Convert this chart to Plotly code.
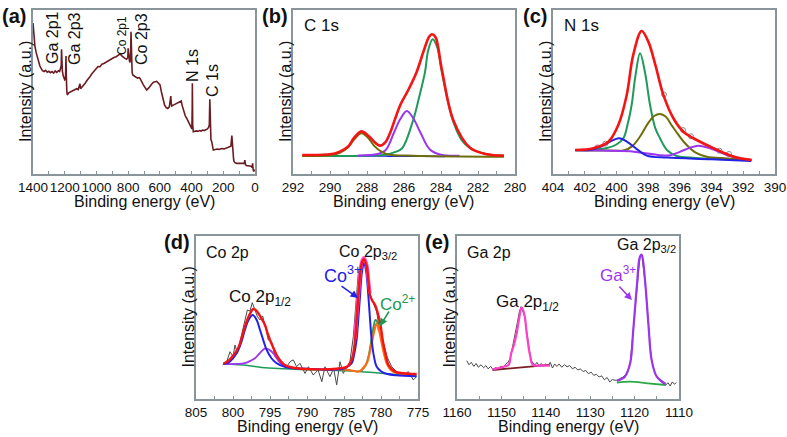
import plotly.graph_objects as go

W, H = 787, 437

# ---------------- (a) survey ----------------
survey_be = [1400, 1398, 1393, 1388, 1380, 1372, 1365, 1357, 1350, 1340, 1330, 1320, 1310, 1300, 1290, 1280,
             1270, 1260, 1250, 1240, 1232, 1226, 1222, 1220, 1218, 1215, 1210, 1206, 1200, 1195, 1192, 1190,
             1187, 1184, 1175, 1165, 1155, 1145, 1135, 1125, 1115, 1108, 1104, 1100, 1090, 1080, 1070, 1060,
             1050, 1040, 1030, 1020, 1010, 1000, 990, 977, 965, 950, 935, 920, 905, 890, 875, 860, 850, 840,
             830, 820, 810, 802, 800, 797, 792, 788, 784, 782, 779, 775, 771, 760, 750, 740, 730, 725, 715,
             705, 695, 683, 670, 660, 650, 640, 631, 620, 610, 599, 590, 580, 570, 560, 550, 540, 535, 531,
             528, 525, 515, 505, 495, 485, 475, 465, 460, 450, 440, 431, 420, 410, 402, 398, 396, 395, 393,
             389, 380, 370, 360, 350, 340, 330, 320, 310, 300, 292, 288, 285, 282, 278, 273, 268, 263, 250,
             240, 225, 210, 195, 180, 170, 160, 152, 146, 143, 140, 135, 132, 125, 115, 105, 95, 85, 75, 68,
             64, 61, 55, 45, 35, 25, 18, 15, 12, 8, 4, 0]
survey_int = [92, 89, 84, 78, 74, 71, 68, 66, 64.5, 63, 62.5, 63.2, 62, 62.6, 61.8, 62.5,
              61.5, 62.8, 62, 63, 62.5, 64, 66, 76, 66, 63, 60, 58.5, 57.5, 58, 72, 60,
              51, 48.2, 49.5, 50, 50.5, 51, 51.5, 52, 51.5, 53.5, 55, 52, 53, 54, 55.5, 57,
              58, 59.5, 61, 62, 63.5, 64, 65.5, 65.4, 67, 67.5, 68.5, 69.5, 70, 71, 71.5, 72.8, 73.2, 72,
              71, 70.5, 70, 71, 76.6, 70, 69, 68, 74, 86.8, 66, 62, 60.4, 59.5, 59, 58.5, 58.8, 58.3, 56,
              54.5, 53, 51.2, 52.5, 54, 55, 56, 56.3, 56.5, 55.5, 54.3, 50, 45, 42, 40.5, 40, 41, 44, 47.5,
              43, 41.5, 42, 42.5, 43, 43.5, 44, 44.5, 42, 38, 35.5, 34, 32, 30, 28, 27.5, 40, 55.3, 30,
              25.8, 26, 26.3, 26, 26.5, 26.2, 26.8, 26.5, 27, 27.5, 28.5, 30, 45.5, 24, 21, 19.7, 17, 14.6, 15,
              15.2, 15, 15.5, 15.3, 15.8, 16, 16.5, 17, 23.5, 17, 14, 9, 7.5, 6.8, 6.5, 6.5, 6.3, 6.5, 6.2, 6.5,
              8.5, 6, 5.2, 5, 5, 4.8, 4, 6.5, 3, 1.5, 2.5, 2]

# ---------------- (b) C 1s ----------------
c1s_env_be = [291.5, 290.0, 289.5, 289.0, 288.7, 288.3, 287.9, 287.5, 287.3, 287.0, 286.76, 286.5, 286.2,
              285.77, 285.31, 284.95, 284.65, 284.5, 284.3, 283.96, 283.34, 282.43, 281.5, 280.6]
c1s_env_int = [11.6, 12, 13.5, 17, 22, 26, 23, 18.5, 17.3, 19.5, 24.8, 33, 42.1,
               51.2, 62.4, 74.6, 83.5, 85.2, 83.5, 64, 33, 16, 12, 11.2]
c1s_cc_be = [291.5, 288.0, 287.0, 286.5, 286.1, 285.53, 285.2, 284.86, 284.7, 284.45, 284.2, 283.96, 283.6,
             283.34, 282.9, 282.43, 281.5, 280.6]
c1s_cc_int = [11.0, 11.2, 11.8, 13.3, 15.7, 31.9, 46, 62.4, 75, 82.1, 77, 62.4, 43, 31.9, 21, 15.7, 12, 11]
c1s_co_be = [288.5, 287.5, 287.0, 286.55, 286.2, 285.85, 285.5, 285.1, 284.6, 284.0, 283.0]
c1s_co_int = [11.3, 12, 14.5, 25, 33.5, 38.4, 34, 25, 15, 11.8, 11.2]
c1s_oco_be = [291.5, 290.0, 289.5, 289.0, 288.7, 288.3, 287.9, 287.6, 287.2, 286.8, 285.5, 280.6]
c1s_oco_int = [11.0, 11.5, 12.8, 16.5, 21, 24.8, 21.5, 17, 13.5, 11.8, 11.2, 10.5]
c1s_bg_be = [289.5, 287.0, 285.0, 283.8]
c1s_bg_int = [11.0, 10.9, 10.8, 10.7]

# ---------------- (c) N 1s ----------------
n1s_env_be = [402.6, 401.46, 400.51, 399.88, 399.35, 398.94, 398.41, 397.99, 397.57, 397.04, 396.41, 395.78,
              395.15, 394.31, 393.26, 392.42, 391.47]
n1s_env_int = [14.6, 15.7, 19.7, 29.9, 48.2, 72.6, 87.2, 80.7, 67.5, 48.2, 34, 25.8, 21.8, 17.7, 13, 10, 8.5]
n1s_a_be = [402.6, 401.5, 400.6, 400.0, 399.56, 399.3, 399.04, 398.8, 398.51, 398.2, 397.88, 397.55, 397.25,
            396.8, 396.2, 395.0, 391.5]
n1s_a_int = [14.6, 14.8, 15.8, 18, 21.8, 30, 42.1, 60, 73.6, 62, 42.1, 28, 21.8, 14.5, 11, 9.8, 8.5]
n1s_b_be = [402.6, 400.5, 399.5, 399.0, 398.5, 398.0, 397.6, 397.25, 396.9, 396.5, 396.1, 395.6, 395.0,
            394.3, 393.0, 391.5]
n1s_b_int = [14.5, 14.3, 14.5, 17, 23, 31, 35.5, 36.6, 35, 29.5, 24, 18, 13, 10.5, 9.5, 8.6]
n1s_c_be = [402.6, 401.5, 400.8, 400.4, 399.82, 399.3, 398.72, 398.09, 396.8, 394.0, 391.5]
n1s_c_int = [14.5, 15, 17.5, 19.7, 21.8, 19.5, 15.2, 11.2, 10, 9, 7.9]
n1s_d_be = [402.6, 400.5, 398.9, 397.25, 396.6, 396.0, 395.36, 394.84, 394.1, 393.5, 393.05, 392.3, 391.5]
n1s_d_int = [14.6, 14.2, 13.6, 11.5, 11.5, 13.5, 16, 17.3, 15.7, 13.5, 11.6, 9.8, 8.5]
n1s_raw_be = [401.2, 400.7, 397.0, 395.8, 395.3, 393.5, 392.9]
n1s_raw_int = [16.2, 18.5, 48.5, 26.8, 23, 14.2, 12.2]

# ---------------- (d) Co 2p ----------------
co_raw_be = [801.4, 800.85, 800.4, 800.0, 799.73, 799.4, 799.05, 798.6, 798.06, 797.7, 797.39, 797.03, 796.7,
             796.35, 795.99, 795.68, 795.23, 794.77, 794.32, 793.65, 792.74, 792.3, 791.85, 791.4, 790.95,
             790.27, 789.8, 789.15, 788.5, 788.0, 787.57, 786.9, 786.4, 785.99, 785.54, 785.1, 784.64, 784.2,
             783.74, 783.38, 783.07, 782.6, 782.3, 781.93, 781.5, 781.04, 780.58, 780.14, 779.7, 779.2,
             778.55, 777.66, 776.99, 776.3, 775.63, 775.2]
co_raw_int = [20.9, 22.9, 29, 26, 33.1, 28, 35.2, 44.4, 54.6, 54, 59.1, 54.6, 50.5,
              48.5, 50.9, 45.4, 36.2, 35, 26, 22.9, 19.8, 22.9, 24, 19.8, 21.9,
              15.7, 19.8, 14.7, 17.8, 10.6, 19.8, 13.7, 18.8, 8.6, 22.9, 15.7, 19.8, 22.9,
              38.2, 58.7, 77.1, 85.3, 86.3, 82, 64.8, 58.7, 53.6, 40.3, 35.2, 26,
              19.8, 15.7, 14.7, 16.8, 11.7, 13.7]
co_env_be = [801.3, 800.6, 800.0, 799.28, 798.8, 798.4, 797.8, 797.25, 796.9, 796.58, 796.1, 795.68, 795.3,
             795.0, 794.5, 794.1, 793.5, 793.0, 792.0, 790.27, 788.0, 786.0, 785.0, 784.4, 783.9, 783.5,
             783.07, 782.6, 782.3, 781.93, 781.7, 781.5, 781.2, 780.8, 780.4, 780.1, 779.7, 779.3, 779.0,
             778.1, 777.0, 775.2]
co_env_int = [21.6, 23.5, 26.5, 31.5, 38, 44.4, 51.5, 55.2, 54.5, 52.6, 49, 45.4, 40,
              36.2, 31, 27, 23, 20.9, 19.3, 18.4, 18.2, 18.6, 19.2, 20.5, 25, 36.2,
              62.8, 83.2, 85.7, 81.2, 72, 63.8, 60.5, 57.7, 52, 46.4, 34.2, 26, 20.9,
              16.8, 15.8, 15.3]
co_env32_be = [783.5, 783.07, 782.6, 782.3, 781.93, 781.7, 781.5]
co_env32_int = [37, 63.5, 84.2, 86.7, 82.2, 73, 64.8]
co3_be = [801.3, 800.6, 800.0, 799.28, 798.8, 798.4, 797.9, 797.34, 796.8, 796.35, 795.9, 795.45, 794.8,
          794.1, 793.3, 792.5, 790.0, 787.0, 785.5, 784.86, 783.96, 783.6, 783.3, 783.05, 782.84, 782.6,
          782.3, 782.0, 781.7, 781.5, 781.26, 780.95, 780.58, 780.0, 779.5, 778.0, 775.2]
co3_int = [21.5, 22.5, 25, 30.1, 36, 42.3, 48.5, 51.5, 48.5, 42.3, 36, 30.1, 25,
           21.9, 20.2, 19.2, 18.6, 18, 18.2, 19, 22, 28, 36.2, 50, 62.8, 77,
           83.8, 78, 62.8, 50, 36.2, 26, 19.8, 17, 15.8, 14.5, 13.9]
co_sat_be = [801.3, 799.5, 798.4, 797.6, 797.03, 796.5, 796.0, 795.6, 795.1, 794.55, 794.1, 793.65, 793.0,
             792.5, 791.5]
co_sat_int = [21.5, 21.5, 22, 23.5, 25, 27.5, 30, 31.1, 30.2, 28, 25, 22.3, 20, 19.2, 19]
co2_be = [787.0, 785.0, 784.0, 783.07, 782.5, 781.93, 781.6, 781.26, 780.9, 780.58, 780.25, 779.9, 779.55,
          779.23, 778.7, 778.1, 777.0, 775.2]
co2_int = [18.2, 18.2, 17.5, 16.8, 18.5, 21.9, 27, 34.2, 42, 46.4, 42, 34.2, 27,
           21.9, 18, 16.2, 15.5, 15]
co2g_be = [782.6, 782.1, 781.7, 781.35, 781.0, 780.75, 780.55, 780.3]
co2g_int = [17.5, 20.5, 26, 35, 44.5, 48.5, 47.8, 42]
co_bg_be = [801.3, 798.0, 796.1, 793.0, 790.0, 787.0, 784.0, 781.0, 778.0, 775.2]
co_bg_int = [21.4, 20.6, 19.4, 18.6, 18.0, 17.6, 17.2, 16.2, 15.0, 14.1]

# ---------------- (e) Ga 2p ----------------
ga_raw_be = [1157.8, 1157.3, 1156.8, 1156.2, 1155.7, 1155.2, 1154.6, 1154.0, 1153.5, 1153.0, 1152.4, 1151.9,
             1151.3, 1150.7, 1150.1, 1149.5, 1149.0, 1148.5, 1148.0, 1147.6, 1147.2, 1146.8, 1146.4, 1146.0,
             1145.6, 1145.2, 1144.8, 1144.5, 1144.1, 1143.7, 1143.3, 1142.9, 1142.4, 1142.0, 1141.5, 1141.0,
             1140.5, 1140.0, 1139.5, 1139.0, 1138.5, 1138.0, 1137.5, 1137.0, 1136.4, 1135.8, 1135.2, 1134.6,
             1134.0, 1133.4, 1132.8, 1132.2, 1131.6, 1131.0, 1130.4, 1129.8, 1129.2, 1128.6, 1128.0, 1127.4,
             1126.8, 1126.2, 1125.6, 1125.0, 1124.4, 1124.0, 1123.3, 1122.6, 1122.0, 1121.4, 1121.0, 1120.3,
             1119.5, 1118.8, 1118.4, 1117.7, 1116.9, 1116.2, 1115.5, 1115.0, 1114.3, 1113.6, 1113.0, 1112.5,
             1112.0, 1111.5, 1111.0, 1110.6]
ga_raw_int = [23.5, 21, 22.5, 20, 21.8, 19.5, 21, 19.2, 20.5, 18.5, 20, 18.0,
              19.3, 18.5, 20.2, 19.4, 21.5, 22.5, 25, 30, 36, 42, 47, 53,
              56.5, 54, 51, 45.5, 37, 30, 24, 22, 21, 22.5, 20.5, 21.8,
              20.2, 21.5, 20.5, 22.5, 19, 21.5, 20, 21.5, 19.5, 21, 19.8, 20.5,
              18.5, 19.5, 17.8, 18.5, 16.8, 17.5, 15.5, 16.5, 14.5, 15.2, 13.5, 14.2,
              11.8, 13.2, 10.5, 12, 11.5, 11.5, 12.5, 13.5, 15, 18.5, 22, 42,
              69, 87, 88.5, 73, 46, 24, 16, 13.5, 11, 9.5, 8.5, 10,
              8, 10.5, 9, 10.2]
ga12_be = [1152.0, 1150.0, 1148.4, 1147.8, 1147.2, 1146.56, 1145.8, 1145.44, 1144.8, 1144.3, 1143.56, 1142.9,
           1141.0, 1139.1]
ga12_int = [18.2, 19.5, 20.9, 28, 33, 40.3, 52.6, 56.2, 51.5, 40.3, 27, 20.9, 20.6, 20.5]
ga12_bg_be = [1152.0, 1139.1]
ga12_bg_int = [17.8, 20.9]
ga32_be = [1124.0, 1122.2, 1121.0, 1120.3, 1119.5, 1118.8, 1118.4, 1117.66, 1116.9, 1116.16, 1115.0, 1113.0]
ga32_int = [11.2, 13.7, 21.9, 42.3, 68.9, 87.3, 88.5, 73, 46.4, 23.9, 13.7, 9.2]
ga32_bg_be = [1124.0, 1121.0, 1117.0, 1113.0]
ga32_bg_int = [10.0, 10.6, 9.6, 8.6]

# ---------------- style ----------------
FONT = "Liberation Sans, Arial, sans-serif"
FRAME = "#8a959b"
RED = "#f41414"
GREEN = "#1f9a5a"
PURPLE = "#9b35f0"
OLIVE = "#6e6e0a"
BLUE = "#2222e6"
ORANGE = "#ff6a10"
PINK = "#ff3fc8"
MAROON = "#6b1c22"
GRAY = "#4a4a4a"
TXT = "#111111"

# panel boxes in pixels: left, right, top, bottom
boxes = {
    "a": (33, 255, 10, 174),
    "b": (293, 515, 10, 174),
    "c": (553, 775, 10, 174),
    "d": (196, 418, 236, 399),
    "e": (457, 679, 236, 399),
}
ranges = {"a": [1400, 0], "b": [292, 280], "c": [404, 390], "d": [805, 775], "e": [1160, 1110]}
dticks = {"a": 200, "b": 2, "c": 2, "d": 5, "e": 10}
keys = ["a", "b", "c", "d", "e"]

fig = go.Figure()


def sfx_of(panel):
    i = keys.index(panel) + 1
    return "" if i == 1 else str(i)


def add(panel, xs, ys, color, width=2.0, shape="spline", mode="lines", marker=None):
    sfx = sfx_of(panel)
    kw = dict(x=xs, y=ys, mode=mode, xaxis="x" + sfx, yaxis="y" + sfx, showlegend=False,
              hoverinfo="skip")
    if mode == "lines":
        kw["line"] = dict(color=color, width=width, shape=shape)
    else:
        kw["marker"] = marker
    fig.add_trace(go.Scatter(**kw))


# (a)
add("a", survey_be, survey_int, MAROON, 1.6, "linear")
# (b)
add("b", c1s_bg_be, c1s_bg_int, BLUE, 1.5)
add("b", c1s_cc_be, c1s_cc_int, GREEN, 2.0)
add("b", c1s_co_be, c1s_co_int, PURPLE, 2.0)
add("b", c1s_oco_be, c1s_oco_int, OLIVE, 2.0)
add("b", c1s_env_be, c1s_env_int, RED, 2.6)
# (c)
add("c", n1s_raw_be, n1s_raw_int, None, mode="markers",
    marker=dict(symbol="circle-open", size=5, color="#8a8a8a", line=dict(width=1)))
add("c", n1s_a_be, n1s_a_int, GREEN, 2.0)
add("c", n1s_b_be, n1s_b_int, OLIVE, 2.0)
add("c", n1s_d_be, n1s_d_int, PURPLE, 2.0)
add("c", n1s_c_be, n1s_c_int, BLUE, 2.0)
add("c", n1s_env_be, n1s_env_int, RED, 2.6)
# (d)
add("d", co_raw_be, co_raw_int, GRAY, 1.0, "linear")
add("d", co_bg_be, co_bg_int, GREEN, 1.5)
add("d", co_sat_be, co_sat_int, PURPLE, 1.8)
add("d", co2g_be, co2g_int, GREEN, 1.8)
add("d", co2_be, co2_int, ORANGE, 2.2)
add("d", co3_be, co3_int, BLUE, 2.0)
add("d", co_env32_be, co_env32_int, "#ff50d0", 3.5)
add("d", co_env_be, co_env_int, RED, 2.4)
# (e)
add("e", ga_raw_be, ga_raw_int, GRAY, 1.0, "linear")
add("e", ga12_bg_be, ga12_bg_int, "#7a1f24", 1.8, "linear")
add("e", ga32_bg_be, ga32_bg_int, "#2aa845", 1.8)
add("e", ga12_be, ga12_int, PINK, 2.2)
add("e", ga32_be, ga32_int, PURPLE, 2.2)

layout = dict(width=W, height=H, margin=dict(l=0, r=0, t=0, b=0, autoexpand=False), paper_bgcolor="white",
              plot_bgcolor="white", font=dict(family=FONT, color=TXT), showlegend=False)
for k in keys:
    sfx = sfx_of(k)
    l, r, t, b = boxes[k]
    layout["xaxis" + sfx] = dict(
        domain=[l / W, r / W], anchor="y" + sfx, range=ranges[k], dtick=dticks[k], tick0=0,
        showline=True, mirror=True, linecolor=FRAME, linewidth=1.5, showgrid=False,
        ticks="inside", ticklen=3, tickwidth=1, tickcolor=FRAME,
        minor=dict(dtick=dticks[k] / 2, ticks="inside", ticklen=3, tickwidth=1, tickcolor=FRAME,
                   showgrid=False),
        zeroline=False, tickangle=0, automargin=False,
        tickfont=dict(size=13.5, family=FONT, color=TXT),
    )
    layout["yaxis" + sfx] = dict(
        domain=[1 - b / H, 1 - t / H], anchor="x" + sfx, range=[0, 100], showticklabels=False,
        showline=True, mirror=True, linecolor=FRAME, linewidth=1.5, ticks="", showgrid=False,
        zeroline=False, automargin=False,
    )
fig.update_layout(**layout)

ann = []

# axis titles (as text placed below / left of each frame)
for k in keys:
    l, r, t, b = boxes[k]
    ann.append(dict(text="Binding energy (eV)", x=(l + r) / 2 / W, y=1 - (b + 27.5) / H, xref="paper",
                    yref="paper", showarrow=False, xanchor="center", yanchor="middle",
                    font=dict(size=16, family=FONT, color=TXT)))
    ann.append(dict(text="Intensity (a.u.)", x=(l - 8) / W, y=1 - (t + b) / 2 / H, xref="paper",
                    yref="paper", showarrow=False, xanchor="center", yanchor="middle", textangle=-90,
                    font=dict(size=16, family=FONT, color=TXT)))


def dom_text(panel, text, xd, yd, size, color=TXT, angle=0, xanchor="left"):
    sfx = sfx_of(panel)
    ann.append(dict(text=text, x=xd, y=yd, xref="x" + sfx + " domain", yref="y" + sfx + " domain",
                    showarrow=False, xanchor=xanchor, yanchor="middle", textangle=angle,
                    font=dict(size=size, family=FONT, color=color)))


# panel letters
for lab, cx, cy in [("(a)", 14, 16), ("(b)", 275, 16), ("(c)", 535, 16), ("(d)", 177, 242), ("(e)", 437, 242)]:
    ann.append(dict(text="<b>" + lab + "</b>", x=cx / W, y=1 - cy / H, xref="paper", yref="paper",
                    showarrow=False, xanchor="center", yanchor="middle",
                    font=dict(size=20, family=FONT, color=TXT)))

# (a) peak labels (rotated)
for text, cx, cy, size in [("Ga 2p1", 52, 38, 16), ("Ga 2p3", 74, 39, 16), ("Co 2p1", 122, 35, 12),
                           ("Co 2p3", 141, 39, 16), ("N 1s", 192, 65, 16), ("C 1s", 212, 80, 16)]:
    l, r, t, b = boxes["a"]
    dom_text("a", text, (cx - l) / (r - l), (b - cy) / (b - t), size, angle=-90, xanchor="center")

dom_text("b", "C 1s", 0.041, 0.905, 17)
dom_text("c", "N 1s", 0.041, 0.905, 17)
dom_text("d", "Co 2p", 0.036, 0.896, 16)
dom_text("d", "Co 2p<sub>1/2</sub>", 0.14, 0.62, 17)
dom_text("d", "Co 2p<sub>3/2</sub>", 0.635, 0.90, 16)
dom_text("d", "Co<sup>3+</sup>", 0.568, 0.765, 18, BLUE)
dom_text("d", "Co<sup>2+</sup>", 0.82, 0.59, 17, "#1a9a50")
dom_text("e", "Ga 2p", 0.036, 0.896, 16)
dom_text("e", "Ga 2p<sub>1/2</sub>", 0.167, 0.59, 17)
dom_text("e", "Ga 2p<sub>3/2</sub>", 0.712, 0.94, 16)
dom_text("e", "Ga<sup>3+</sup>", 0.635, 0.765, 17, "#a033f0")

# arrows pointing to components
for xr, yr, x, y, ax, ay, col in [("x4", "y4", 783.1, 62, -18, -13, BLUE),
                                  ("x4", "y4", 780.14, 44.8, 10, -16, "#1a9a50"),
                                  ("x5", "y5", 1120.6, 60.7, -14, -15, "#a033f0")]:
    ann.append(dict(text="", x=x, y=y, xref=xr, yref=yr, ax=ax, ay=ay, showarrow=True,
                    arrowhead=2, arrowsize=1, arrowwidth=1.5, arrowcolor=col))

fig.update_layout(annotations=ann)
fig.write_html("out.html", config={"displayModeBar": False},
               post_script="document.body.style.margin='0';document.body.style.overflow='hidden';")
